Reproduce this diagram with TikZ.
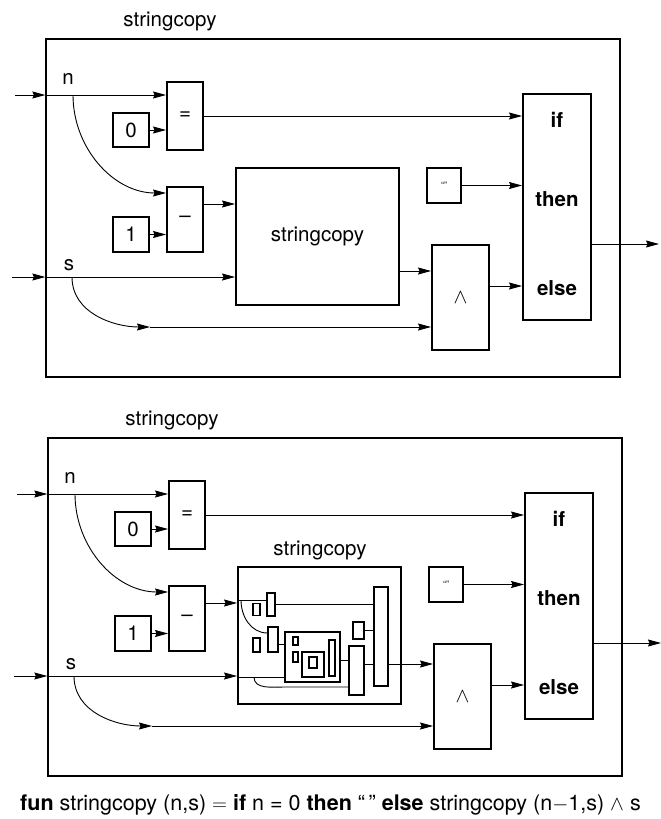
\documentclass[tikz,border=0pt]{standalone}
\usepackage{fontspec}
\setmainfont{TeX Gyre Heros}
\usetikzlibrary{arrows.meta}

\begin{document}
\begin{tikzpicture}[
        x=1pt,y=-1pt,
        every node/.style={font=\fontsize{20.5}{24}\selectfont},
        frame/.style={draw,line width=1.3pt,inner sep=0pt},
        box/.style={draw,line width=1.9pt,inner sep=0pt},
        mini/.style={draw,line width=1.1pt,inner sep=0pt},
        wire/.style={line width=0.9pt,-{Stealth[length=13pt,width=7pt,inset=1.5pt]}},
        plain/.style={line width=0.9pt},
        kw/.style={font=\fontsize{20.5}{24}\selectfont\bfseries}
    ]
    \useasboundingbox (0,0) rectangle (661,819);

    \foreach \i/\xs/\ys/\ry in {1/0/0/271,2/2/399/265} {
    \begin{scope}[shift={(\xs,\ys)}]
        \node (title\i) at (170,21) {stringcopy};
        \node[frame,minimum width=574,minimum height=338] (frame\i) at (333,208) {};
        \node (nlab\i) at (68,79) {n};
        \node (slab\i) at (69,265) {s};

        \node[box,minimum width=36,minimum height=68] (eq\i) at (185,116) {=};
        \node[box,minimum width=36,minimum height=34] (zero\i) at (131,130) {0};
        \node[box,minimum width=36,minimum height=65] (minus\i) at (185,219.5) {\textendash};
        \node[box,minimum width=36,minimum height=35] (one\i) at (131,234.5) {1};
        \node[box,minimum width=163,minimum height=137] (rec\i) at (317.5,236.5) {};
        \node[box,minimum width=34,minimum height=35,font=\fontsize{9}{10}\selectfont] (empty\i) at (444,185.5) {“”};
        \node[box,minimum width=57,minimum height=105] (and\i) at (460.5,297.5) {$\wedge$};
        \node[box,minimum width=68,minimum height=226] (ite\i) at (557,207) {};
        \node[kw] (if\i) at (557,120) {if};
        \node[kw] (then\i) at (557,199.5) {then};
        \node[kw] (else\i) at (557,288.5) {else};

        \coordinate (nin\i) at (15,95);
        \coordinate (nfork\i) at (73,95);
        \coordinate (sin\i) at (12,277);
        \coordinate (sfork\i) at (72,277);
        \coordinate (sbend\i) at (150,327);
        \coordinate (out\i) at (659,244);

        \draw[wire] (nin\i) -- (frame\i.west |- nin\i);
        \draw[wire] (frame\i.west |- nin\i) -- (eq\i.west |- nin\i);
        \draw[wire] (zero\i) -- (eq\i.west |- zero\i);
        \draw[wire] (eq\i) -- (ite\i.west |- eq\i);
        \draw[wire] (nfork\i) to[out=-90,in=180] (minus\i.west |- 0,193);
        \draw[wire] (one\i) -- (minus\i.west |- one\i);
        \draw[wire] (minus\i.east |- 0,204) -- (rec\i.west |- 0,204);
        \draw[wire] (sin\i) -- (frame\i.west |- sin\i);
        \draw[wire] (frame\i.west |- sin\i) -- (rec\i.west |- sin\i);
        \draw[wire] (sfork\i) to[out=-90,in=180] (sbend\i);
        \draw[wire] (sbend\i) -- (and\i.west |- sbend\i);
        \draw[wire] (rec\i.east |- 0,\ry) -- (and\i.west |- 0,\ry);
        \draw[wire] (empty\i) -- (ite\i.west |- empty\i);
        \draw[wire] (and\i.east |- 0,286) -- (ite\i.west |- 0,286);
        \draw[wire] (ite\i.east |- out\i) -- (out\i);
    \end{scope}
    }

    \node (reclab1) at (rec1) {stringcopy};
    \node (reclab2) at (320,550) {stringcopy};

    \node[mini,minimum width=8,minimum height=23] (meq) at (271,604.5) {};
    \node[mini,minimum width=7,minimum height=12] (mzero) at (256.5,609.5) {};
    \node[mini,minimum width=10,minimum height=25] (mminus) at (273,639.5) {};
    \node[mini,minimum width=7,minimum height=14] (mone) at (256.5,645) {};
    \node[mini,minimum width=55,minimum height=50] (mrec) at (312.5,657) {};
    \node[mini,minimum width=11,minimum height=17] (mempty) at (358.5,630.5) {};
    \node[mini,minimum width=15,minimum height=49] (mand) at (356.5,670.5) {};
    \node[mini,minimum width=14,minimum height=99] (mite) at (381,636.5) {};
    \node[mini,minimum width=5,minimum height=8] (mmzero) at (295.5,641) {};
    \node[mini,minimum width=5,minimum height=10] (mmone) at (295.5,657) {};
    \node[mini,minimum width=22,minimum height=25] (mmrec) at (313,664.5) {};
    \node[mini,minimum width=8,minimum height=11] (mmcore) at (313,662.5) {};
    \node[mini,minimum width=6,minimum height=36] (mmite) at (332,658) {};

    \coordinate (mnfork) at (241,600);
    \coordinate (msfork) at (254,677);
    \draw[plain] (rec2.west |- mnfork) -- (meq.west |- mnfork);
    \draw[plain] (meq.east |- 0,604) -- (mite.west |- 0,604);
    \draw[plain] (mnfork) to[out=-90,in=180] (mminus.west |- 0,633);
    \draw[plain] (mminus.east |- 0,644) -- (mrec.west |- 0,644);
    \draw[plain] (rec2.west |- msfork) -- (mrec.west |- msfork);
    \draw[plain] (msfork) to[out=-90,in=180] (mrec.west |- 0,687) -- (mand.west |- 0,687);
    \draw[plain] (mempty) -- (mite.west |- mempty);
    \draw[plain] (mrec.east |- 0,660) -- (mand.west |- 0,660);
    \draw[plain] (mand.east |- 0,664) -- (mite.west |- 0,664);
    \draw[plain] (mite.east |- 0,664) -- (rec2.east |- 0,664);

    \node[font=\fontsize{21.5}{25}\selectfont] (caption) at (330.5,805) {\textbf{fun} stringcopy (n,s) $=$ \textbf{if} n = 0 \textbf{then} “\,” \textbf{else} stringcopy (n$-$1,s) $\wedge$ s};
\end{tikzpicture}
\end{document}
